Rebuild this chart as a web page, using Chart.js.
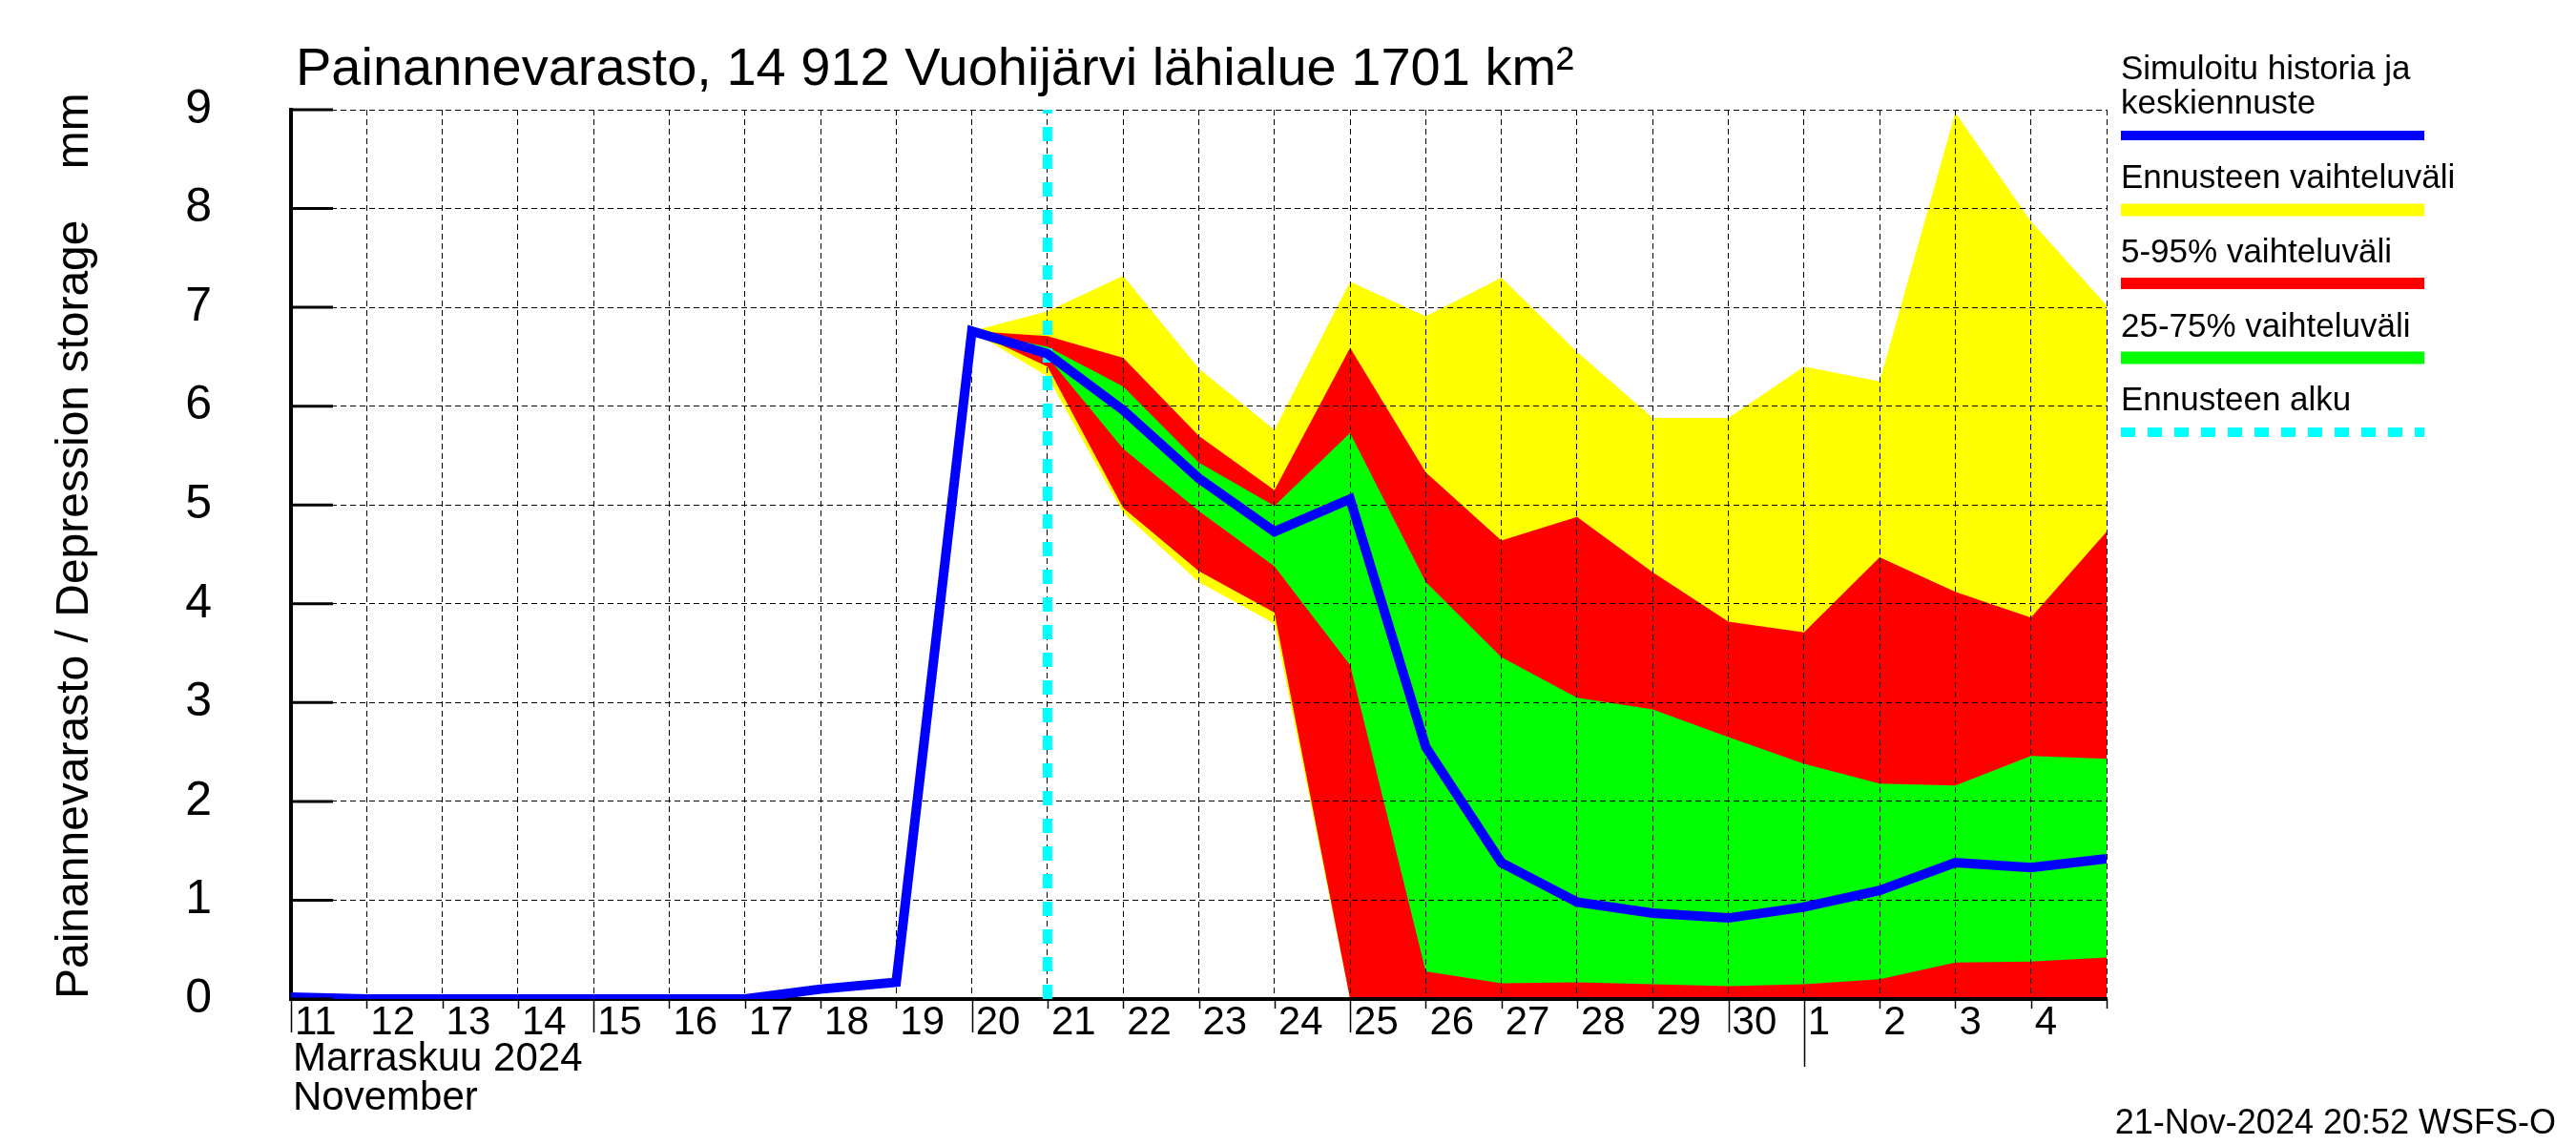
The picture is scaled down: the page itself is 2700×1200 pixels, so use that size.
<!DOCTYPE html>
<html>
<head>
<meta charset="utf-8">
<script src="https://cdn.jsdelivr.net/npm/chart.js@4"></script>
<style>
  html, body { margin: 0; padding: 0; background: #fff; }
  canvas { display: block; }
</style>
</head>
<body>
<canvas id="chartPainanne" width="2700" height="1200"></canvas>
<script>
// day index 0 = 11 Nov 2024, 20 = 1 Dec, 24 = 5 Dec
const dayLabels = ["11", "12", "13", "14", "15", "16", "17", "18", "19", "20",
    "21", "22", "23", "24", "25", "26", "27", "28", "29", "30", "1", "2", "3", "4"];
const yTicks = [0, 1, 2, 3, 4, 5, 6, 7, 8, 9];

const medianDays = [0, 1, 2, 3, 4, 5, 6, 7, 8, 9, 10, 11, 12, 13, 14, 15, 16, 17, 18, 19, 20, 21, 22, 23, 24];
const median = [0.02, 0, 0, 0, 0, 0, 0, 0.1, 0.17, 6.76, 6.53, 5.96, 5.27, 4.73, 5.06, 2.55,
    1.38, 0.98, 0.87, 0.82, 0.93, 1.1, 1.38, 1.33, 1.42];

const fcDays = [9, 10, 11, 12, 13, 14, 15, 16, 17, 18, 19, 20, 21, 22, 23, 24];
const yellowHi = [6.76, 6.96, 7.32, 6.38, 5.76, 7.26, 6.91, 7.30, 6.55, 5.88, 5.88, 6.40, 6.25, 8.97, 7.87, 7.02];
const yellowLo = [6.76, 6.30, 4.92, 4.22, 3.80, 0, 0, 0, 0, 0, 0, 0, 0, 0, 0, 0];
const redHi = [6.76, 6.71, 6.49, 5.70, 5.15, 6.59, 5.33, 4.64, 4.88, 4.32, 3.82, 3.71, 4.47, 4.12, 3.86, 4.73];
const redLo = [6.76, 6.40, 4.97, 4.33, 3.91, 0, 0, 0, 0, 0, 0, 0, 0, 0, 0, 0];
const greenHi = [6.76, 6.60, 6.20, 5.43, 4.99, 5.73, 4.22, 3.46, 3.05, 2.93, 2.65, 2.38, 2.18, 2.16, 2.46, 2.43];
const greenLo = [6.76, 6.50, 5.57, 4.94, 4.38, 3.38, 0.28, 0.16, 0.17, 0.15, 0.13, 0.15, 0.20, 0.37, 0.38, 0.42];

const forecastStart = 10;
const monthStart = 20;
const longTickDays = [0, 4, 9, 14, 19];

const FONT = "'Liberation Sans', Arial, Helvetica, sans-serif";
const BLUE = "#0000ff", YELLOW = "#ffff00", RED = "#ff0000", GREEN = "#00ff00", CYAN = "#00ffff";

function pts(days, vals) {
    return days.map((d, i) => ({ x: d, y: vals[i] }));
}

function band(vals, color, fill) {
    return {
        data: pts(fcDays, vals),
        borderWidth: 0,
        borderColor: "transparent",
        backgroundColor: color,
        pointRadius: 0,
        fill: fill
    };
}

const legendItems = [
    { lines: ["Simuloitu historia ja", "keskiennuste"], base: [83, 119], lineY: 142, width: 10, color: BLUE },
    { lines: ["Ennusteen vaihteluväli"], base: [197], lineY: 220, width: 13, color: YELLOW },
    { lines: ["5-95% vaihteluväli"], base: [275], lineY: 297, width: 12, color: RED },
    { lines: ["25-75% vaihteluväli"], base: [353], lineY: 375, width: 13, color: GREEN },
    { lines: ["Ennusteen alku"], base: [430], lineY: 453, width: 10, color: CYAN, dash: [15, 13] }
];

const overlay = {
    id: "overlay",
    afterDraw(chart) {
        const ctx = chart.ctx;
        const xs = chart.scales.x, ys = chart.scales.y;
        const bottom = ys.getPixelForValue(0);
        ctx.save();

        // inward y ticks
        ctx.strokeStyle = "#000";
        ctx.lineWidth = 3;
        yTicks.forEach(v => {
            const py = ys.getPixelForValue(v);
            ctx.beginPath();
            ctx.moveTo(xs.left, py);
            ctx.lineTo(xs.left + 44, py);
            ctx.stroke();
        });

        // x ticks below the axis
        ctx.lineWidth = 1.5;
        for (let i = 0; i <= dayLabels.length; i++) {
            const px = Math.round(xs.getPixelForValue(i)) + 0.5;
            let len = 10;
            if (i === monthStart) len = 71;
            else if (longTickDays.includes(i)) len = 35;
            ctx.beginPath();
            ctx.moveTo(px, bottom);
            ctx.lineTo(px, bottom + len);
            ctx.stroke();
        }

        ctx.fillStyle = "#000";
        ctx.textBaseline = "alphabetic";
        ctx.textAlign = "left";
        ctx.font = "56px " + FONT;
        ctx.fillText("Painannevarasto, 14 912 Vuohijärvi lähialue 1701 km²", 310, 89);

        ctx.font = "42px " + FONT;
        ctx.fillText("Marraskuu 2024", 307, 1122);
        ctx.fillText("November", 307, 1163);

        ctx.font = "36px " + FONT;
        ctx.textAlign = "right";
        ctx.fillText("21-Nov-2024 20:52 WSFS-O", 2679, 1188);

        // legend
        ctx.textAlign = "left";
        ctx.font = "35px " + FONT;
        legendItems.forEach(item => {
            item.lines.forEach((t, k) => ctx.fillText(t, 2223, item.base[k]));
            ctx.strokeStyle = item.color;
            ctx.lineWidth = item.width;
            ctx.setLineDash(item.dash || []);
            ctx.beginPath();
            ctx.moveTo(2223, item.lineY);
            ctx.lineTo(2541, item.lineY);
            ctx.stroke();
        });
        ctx.restore();
    }
};

document.addEventListener("DOMContentLoaded", () => {
    const ctx = document.getElementById("chartPainanne");
    Chart.defaults.font.family = FONT;
    Chart.defaults.color = "#000";

    new Chart(ctx, {
        type: "line",
        data: {
            datasets: [
                {
                    label: "Simuloitu historia ja keskiennuste",
                    data: pts(medianDays, median),
                    borderColor: BLUE,
                    borderWidth: 10,
                    pointRadius: 0,
                    fill: false
                },
                {
                    label: "Ennusteen alku",
                    data: [{ x: forecastStart, y: yTicks[0] }, { x: forecastStart, y: yTicks[yTicks.length - 1] }],
                    borderColor: CYAN,
                    borderWidth: 10,
                    borderDash: [15, 14],
                    pointRadius: 0,
                    fill: false
                },
                band(greenHi, GREEN, "+1"),
                band(greenLo, GREEN, false),
                band(redHi, RED, "+1"),
                band(redLo, RED, false),
                band(yellowHi, YELLOW, "+1"),
                band(yellowLo, YELLOW, false)
            ]
        },
        options: {
            responsive: false,
            animation: false,
            devicePixelRatio: 1,
            layout: { padding: { top: 115, right: 492, bottom: 0, left: 0 } },
            elements: { line: { tension: 0 } },
            plugins: {
                legend: { display: false },
                tooltip: { enabled: false },
                filler: { drawTime: "beforeDraw" }
            },
            scales: {
                x: {
                    type: "linear",
                    min: 0,
                    max: dayLabels.length,
                    afterFit: s => { s.height = 153; },
                    ticks: {
                        stepSize: 1,
                        autoSkip: false,
                        maxRotation: 0,
                        align: "start",
                        labelOffset: 4,
                        padding: 4,
                        font: { size: 42, lineHeight: 1 },
                        callback: (v, i) => dayLabels[i] || ""
                    },
                    grid: { color: "#000", lineWidth: 1, drawTicks: false },
                    border: { display: true, color: "#000", width: 4, dash: [6, 4] }
                },
                y: {
                    min: 0,
                    max: 9,
                    afterFit: s => { s.width = 305; },
                    ticks: {
                        stepSize: 1,
                        padding: 83,
                        font: { size: 50 }
                    },
                    grid: { color: "#000", lineWidth: 1, drawTicks: false },
                    border: { display: true, color: "#000", width: 4, dash: [6, 4] },
                    title: {
                        display: true,
                        text: "Painannevarasto / Depression storage    mm",
                        align: "start",
                        font: { size: 48 },
                        padding: { top: 50, bottom: 0 }
                    }
                }
            }
        },
        plugins: [overlay]
    });
});
</script>
</body>
</html>
